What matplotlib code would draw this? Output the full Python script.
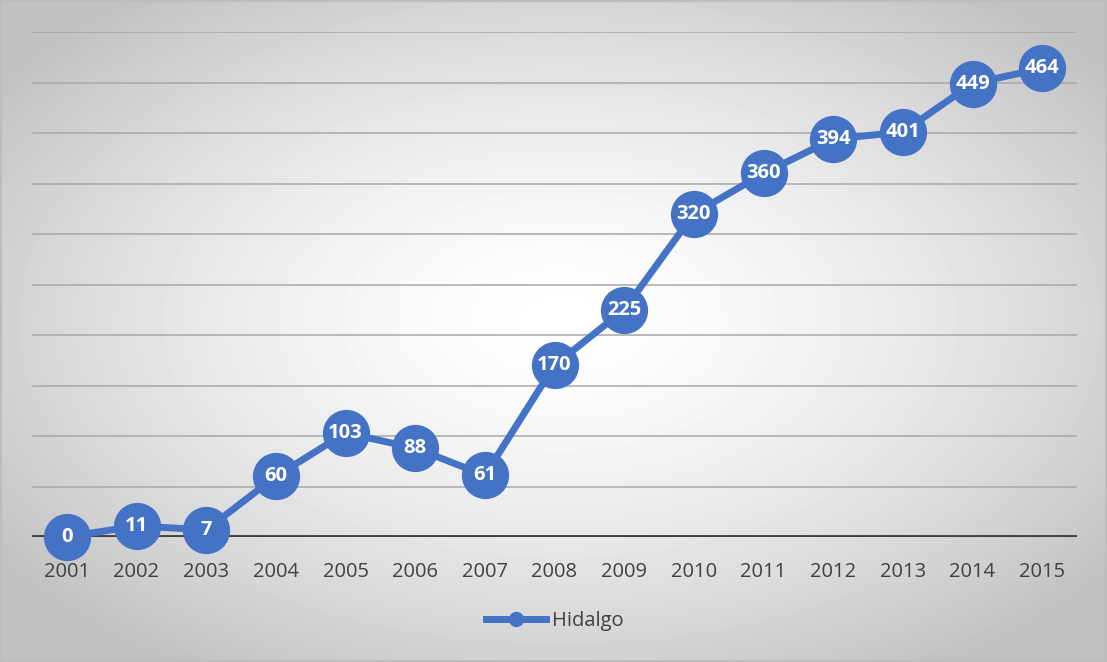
import numpy as np
import matplotlib
matplotlib.use("Agg")
import matplotlib.pyplot as plt
from matplotlib.patches import Rectangle
from matplotlib.lines import Line2D

years = ["2001", "2002", "2003", "2004", "2005", "2006", "2007", "2008",
         "2009", "2010", "2011", "2012", "2013", "2014", "2015"]
hidalgo = [0, 11, 7, 60, 103, 88, 61, 170, 225, 320, 360, 394, 401, 449, 464]
series_name = "Hidalgo"

blue = "#4472C4"
W, H = 1107, 662

fig = plt.figure(figsize=(W / 100, H / 100), dpi=100)

# radial gradient background, white in the middle, grey towards corners
bg = fig.add_axes([0, 0, 1, 1], zorder=0)
yy, xx = np.mgrid[0:H, 0:W]
d = np.sqrt(((xx - 560) / (W * 0.62)) ** 2 + ((yy - 320) / (H * 0.62)) ** 2)
d = np.clip(d, 0, 1)
shade = 1 - 0.24 * d ** 1.5
bg.imshow(shade, cmap="gray", vmin=0, vmax=1, aspect="auto", interpolation="bilinear")
bg.set_axis_off()
fig.patches.append(Rectangle((0.001, 0.001), 0.998, 0.997, transform=fig.transFigure,
                             fill=False, edgecolor="#bdbdbd", linewidth=1.5))

ax = fig.add_axes([32 / W, (H - 537) / H, 1045 / W, 505 / H], zorder=1)
ax.patch.set_alpha(0)
x = np.arange(len(years))
ax.set_xlim(-0.5, len(years) - 0.5)
ax.set_ylim(0, 500)

for g in range(50, 501, 50):
    ax.axhline(g, color="#a8a8a8", linewidth=1.3, alpha=0.85, zorder=1)
ax.axhline(0, color="#404040", linewidth=3.5, zorder=2)

ax.plot(x, hidalgo, color=blue, linewidth=5, marker="o", markersize=33,
        markerfacecolor=blue, markeredgecolor=blue, clip_on=False, zorder=3)
for xi, v in zip(x, hidalgo):
    ax.text(xi, v, str(v), ha="center", va="center", color="white",
            fontsize=14.5, fontweight="bold", family="Open Sans", zorder=4)

for s in ax.spines.values():
    s.set_visible(False)
ax.set_yticks([])
ax.set_xticks(x)
ax.set_xticklabels(years, fontsize=14.5, color="#404040", family="Open Sans")
ax.tick_params(axis="x", length=0, pad=18)

handle = Line2D([], [], color=blue, linewidth=5, marker="o", markersize=10)
leg = fig.legend([handle], [series_name], loc="center", bbox_to_anchor=(555 / W, (H - 621) / H),
                 frameon=False, prop={"family": "Open Sans", "size": 14.5},
                 handlelength=3.0, handletextpad=0.3)
for t in leg.get_texts():
    t.set_color("#404040")

fig.savefig("out.png", dpi=100)
